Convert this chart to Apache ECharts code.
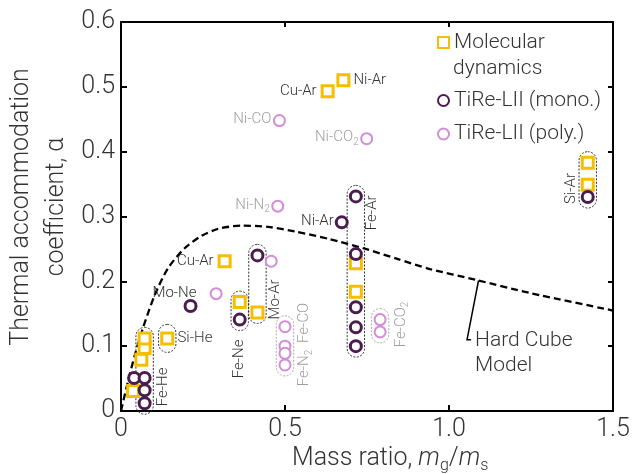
<!DOCTYPE html>
<html><head><meta charset="utf-8">
<script src="https://cdn.jsdelivr.net/npm/echarts@6/dist/echarts.min.js"></script>
<style>html,body{margin:0;padding:0;background:#fff}#c{width:633px;height:474px}</style>
</head><body><div id="c"></div>
<script>
// ---------- data ----------
const xTickValues = [0, 0.5, 1.0, 1.5];
const xTickLabels = ['0', '0.5', '1.0', '1.5'];
const yTickValues = [0, 0.1, 0.2, 0.3, 0.4, 0.5, 0.6];
const yTickLabels = ['0', '0.1', '0.2', '0.3', '0.4', '0.5', '0.6'];

const seriesNames = ['Molecular dynamics', 'TiRe-LII (mono.)', 'TiRe-LII (poly.)'];

const mdPoints = [
  [0.037, 0.031], [0.062, 0.079], [0.072, 0.097], [0.072, 0.112],
  [0.141, 0.112], [0.316, 0.231], [0.362, 0.168], [0.416, 0.152],
  [0.630, 0.493], [0.678, 0.510], [0.716, 0.228], [0.716, 0.184],
  [1.423, 0.383], [1.423, 0.349]
];
const monoPoints = [
  [0.040, 0.051], [0.072, 0.051], [0.072, 0.032], [0.072, 0.012],
  [0.212, 0.162], [0.362, 0.141], [0.416, 0.240], [0.673, 0.291],
  [0.716, 0.331], [0.716, 0.242], [0.716, 0.160], [0.716, 0.129],
  [0.716, 0.100], [1.423, 0.330]
];
const polyPoints = [
  [0.290, 0.181], [0.458, 0.231], [0.500, 0.130], [0.500, 0.100],
  [0.500, 0.089], [0.500, 0.071], [0.790, 0.141], [0.790, 0.122],
  [0.483, 0.448], [0.749, 0.420], [0.478, 0.316]
];

const hardCubeX = [0, 0.021, 0.042, 0.067, 0.103, 0.143, 0.194, 0.245, 0.296, 0.367, 0.448, 0.530, 0.637, 0.739, 0.840, 0.942, 1.084, 1.247, 1.5];
const hardCubeY = [0, 0.045, 0.086, 0.128, 0.179, 0.220, 0.251, 0.270, 0.281, 0.286, 0.284, 0.277, 0.265, 0.251, 0.235, 0.219, 0.202, 0.182, 0.155];

// point labels: [series index, point index, text]
const pointLabelRefs = [
  [0, 5, 'Cu-Ar'], [0, 8, 'Cu-Ar'], [0, 9, 'Ni-Ar'], [1, 4, 'Mo-Ne'],
  [1, 7, 'Ni-Ar'], [2, 8, 'Ni-CO'], [2, 9, 'Ni-CO_2'], [2, 10, 'Ni-N_2']
];
// grouped columns: centre x and label(s)
const groupX = [0.072, 0.141, 0.362, 0.416, 0.500, 0.716, 0.790, 1.423];
const groupNames = ['Fe-He', 'Si-He', 'Fe-Ne', 'Mo-Ar', 'Fe-N_2|Fe-CO', 'Fe-Ar', 'Fe-CO_2', 'Si-Ar'];

// ---------- styles / layout ----------
const FONT = 'Roboto';
const C_MD = '#F6BE00', C_MONO = '#4A1D4E', C_POLY = '#D48CD8';
const C_TXT = '#333333', C_GRAY = '#9e9e9e';

const option = {
  animation: false,
  backgroundColor: '#fff',
  grid: { left: 121, right: 20, top: 22, bottom: 63, containLabel: false, outerBoundsMode: 'none' },
  xAxis: [
    { type: 'value', min: xTickValues[0], max: xTickValues[xTickValues.length - 1], interval: 0.5, position: 'bottom',
      axisLine: { onZero: false, lineStyle: { color: '#000', width: 2 } },
      axisTick: { inside: true, length: 6, lineStyle: { color: '#000', width: 2 } },
      axisLabel: { margin: 6, fontSize: 25, fontFamily: FONT, fontWeight: 300, color: C_TXT, showMinLabel: true, showMaxLabel: true,
        formatter: v => { const i = xTickValues.findIndex(t => Math.abs(t - v) < 1e-9); return i >= 0 ? xTickLabels[i] : ''; } },
      splitLine: { show: false } },
    { type: 'value', min: 0, max: 1.5, interval: 0.5, position: 'top',
      axisLine: { onZero: false, lineStyle: { color: '#000', width: 2 } },
      axisTick: { inside: true, length: 5, lineStyle: { color: '#000', width: 2 } },
      axisLabel: { show: false }, splitLine: { show: false } }
  ],
  yAxis: [
    { type: 'value', min: yTickValues[0], max: yTickValues[yTickValues.length - 1], interval: 0.1, position: 'left',
      axisLine: { onZero: false, lineStyle: { color: '#000', width: 2 } },
      axisTick: { inside: true, length: 6, lineStyle: { color: '#000', width: 2 } },
      axisLabel: { margin: 6, fontSize: 25, fontFamily: FONT, fontWeight: 300, color: C_TXT, showMinLabel: true, showMaxLabel: true,
        formatter: v => { const i = yTickValues.findIndex(t => Math.abs(t - v) < 1e-9); return i >= 0 ? yTickLabels[i] : ''; } },
      splitLine: { show: false } },
    { type: 'value', min: 0, max: 0.6, interval: 0.1, position: 'right',
      axisLine: { onZero: false, lineStyle: { color: '#000', width: 2 } },
      axisTick: { inside: true, length: 5, lineStyle: { color: '#000', width: 2 } },
      axisLabel: { show: false }, splitLine: { show: false } }
  ],
  legend: [0, 1, 2].map((k) => ({
    data: [seriesNames[k]], orient: 'vertical', left: 437, top: [32, 90, 123.5][k], padding: 0,
    itemWidth: 11, itemHeight: 11, selectedMode: false,
    formatter: n => (k === 0 ? 'Molecular' : n),
    textStyle: { fontSize: 21, fontFamily: FONT, fontWeight: 300, color: C_TXT }
  })),
  series: [
    { type: 'line', name: 'Hard Cube Model', data: hardCubeX.map((x, i) => [x, hardCubeY[i]]),
      symbol: 'none', showSymbol: false, smooth: 0.25, silent: true, z: 1,
      lineStyle: { color: '#000', width: 2.3, type: [7, 4] } },
    { type: 'scatter', name: seriesNames[0], data: mdPoints, symbol: 'rect', symbolSize: 11, z: 3,
      itemStyle: { color: '#fff', borderColor: C_MD, borderWidth: 3, opacity: 1 } },
    { type: 'scatter', name: seriesNames[1], data: monoPoints, symbol: 'circle', symbolSize: 11, z: 4,
      itemStyle: { color: '#fff', borderColor: C_MONO, borderWidth: 3, opacity: 1 } },
    { type: 'scatter', name: seriesNames[2], data: polyPoints, symbol: 'circle', symbolSize: 11, z: 5,
      itemStyle: { color: '#fff', borderColor: C_POLY, borderWidth: 2, opacity: 1 } }
  ]
};

const chart = echarts.init(document.getElementById('c'), null, { renderer: 'canvas' });
chart.setOption(option);

// ---------- annotations computed from data ----------
function richOf(t) {
  const parts = t.split('_');
  let s = '{a|' + parts[0] + '}';
  if (parts[1]) s += '{s|' + parts[1] + '}';
  return s;
}
function richStyles(size, color) {
  return {
    a: { fontSize: size, fontFamily: FONT, fontWeight: 300, color: color, lineHeight: size + 4 },
    s: { fontSize: Math.round(size * 0.66), fontFamily: FONT, fontWeight: 300, color: color, lineHeight: Math.round(size * 0.66), verticalAlign: 'bottom' },
    i: { fontSize: size, fontFamily: FONT, fontWeight: 300, fontStyle: 'italic', color: color, lineHeight: size + 4 }
  };
}
function textEl(x, y, text, size, color, align, rot) {
  return {
    type: 'text', x: x, y: y, rotation: rot ? Math.PI / 2 : 0, silent: true, z: 20,
    style: { text: text, rich: richStyles(size, color), fill: color, fontSize: size, fontFamily: FONT, fontWeight: 300,
      align: align, textAlign: align, verticalAlign: 'middle', textVerticalAlign: 'middle' }
  };
}

function build() {
  const P = p => chart.convertToPixel({ xAxisIndex: 0, yAxisIndex: 0 }, p);
  const sets = [mdPoints, monoPoints, polyPoints];
  const els = [];
  const grayNames = ['Ni-CO', 'Ni-CO_2', 'Ni-N_2', 'Fe-N_2', 'Fe-CO', 'Fe-CO_2'];

  pointLabelRefs.forEach(([s, i, t]) => {
    const p = P(sets[s][i]);
    const col = grayNames.includes(t) ? C_GRAY : C_TXT;
    let x, y = p[1], al = 'right';
    if (t === 'Mo-Ne') { x = p[0] + 6; y = p[1] - 13; }
    else if (s === 0 && t === 'Ni-Ar') { x = p[0] + 10; al = 'left'; }
    else if (s === 0) { x = p[0] - 11; }
    else { x = p[0] - 8; y = p[1] - 1; }
    els.push(textEl(x, y, richOf(t), 15, col, al, false));
  });

  const all = [].concat(mdPoints, monoPoints, polyPoints);
  const halfW = 8.7;
  groupX.forEach((gx, k) => {
    const mem = all.filter(p => Math.abs(p[0] - gx) < 0.012);
    const ys = mem.map(p => p[1]);
    const pad = mem.length === 1 ? 14 : 11;
    const cx = P([gx, 0])[0];
    const top = P([gx, Math.max.apply(null, ys)])[1] - pad;
    const bot = P([gx, Math.min.apply(null, ys)])[1] + pad;
    const names = groupNames[k].split('|');
    const gray = names.some(n => grayNames.includes(n));
    els.push({
      type: 'rect', silent: true, z: 1,
      shape: { x: cx - halfW, y: top, width: 2 * halfW, height: bot - top, r: halfW },
      style: { fill: 'none', stroke: gray ? '#aaaaaa' : '#333333', lineWidth: 1, lineDash: [2, 1.5] }
    });
    const rx0 = cx - halfW, rx1 = cx + halfW;
    const col = gray ? C_GRAY : C_TXT;
    const n0 = names[0];
    if (n0 === 'Fe-He') els.push(textEl(rx1 + 10, bot - 8, n0, 15, col, 'left', true));
    else if (n0 === 'Si-He') els.push(textEl(rx1 + 1.5, (top + bot) / 2, n0, 15, col, 'left', false));
    else if (n0 === 'Fe-Ne') els.push(textEl(cx, bot + 9, n0, 15, col, 'right', true));
    else if (n0 === 'Mo-Ar') els.push(textEl(rx1 + 9.5, top + 35, n0, 15, col, 'right', true));
    else if (n0 === 'Fe-Ar') els.push(textEl(rx1 + 7.5, top + 10, n0, 15, col, 'right', true));
    else if (n0 === 'Fe-CO_2') els.push(textEl(rx1 + 12, top - 7, richOf(n0), 15, col, 'right', true));
    else if (n0 === 'Si-Ar') els.push(textEl(rx0 - 8, bot - 4, n0, 15, col, 'left', true));
    else if (n0 === 'Fe-N_2') {
      els.push(textEl(rx1 + 11, top - 13, names[1], 15, col, 'right', true));
      els.push(textEl(rx1 + 11, top + 34, richOf(n0), 15, col, 'right', true));
    }
  });

  const hx = 1.09;
  let hy = hardCubeY[0];
  for (let i = 1; i < hardCubeX.length; i++) {
    if (hardCubeX[i] >= hx) { const t = (hx - hardCubeX[i - 1]) / (hardCubeX[i] - hardCubeX[i - 1]); hy = hardCubeY[i - 1] + t * (hardCubeY[i] - hardCubeY[i - 1]); break; }
  }
  const a = P([hx, hy]), b = P([1.055, 0.110]);
  els.push({ type: 'polyline', silent: true, z: 6, shape: { points: [a, b, [b[0] + 4, b[1]]] }, style: { stroke: '#000', lineWidth: 1.5, fill: 'none' } });
  els.push({ type: 'text', x: b[0] + 8, y: b[1] + 1.5, silent: true, z: 20,
    style: { text: 'Hard Cube\nModel', fontSize: 21, fontFamily: FONT, fontWeight: 300, fill: C_TXT, lineHeight: 24.5,
      align: 'left', textAlign: 'left', verticalAlign: 'top', textVerticalAlign: 'top', y: -12.25 } });

  els.push({ type: 'text', x: 453, y: 68.5, silent: true, z: 20,
    style: { text: 'dynamics', fontSize: 21, fontFamily: FONT, fontWeight: 300, fill: C_TXT, align: 'left', textAlign: 'left', verticalAlign: 'middle', textVerticalAlign: 'middle' } });

  els.push({ type: 'text', x: 39, y: 207, rotation: Math.PI / 2, silent: true, z: 20,
    style: { text: 'Thermal accommodation\ncoefficient, \u03b1', fontSize: 25, fontFamily: FONT, fontWeight: 300, fill: C_TXT, lineHeight: 35,
      align: 'center', textAlign: 'center', verticalAlign: 'middle', textVerticalAlign: 'middle' } });
  const xr = richStyles(25, C_TXT);
  xr.s = { fontSize: 16, fontFamily: FONT, fontWeight: 300, color: C_TXT, lineHeight: 16, verticalAlign: 'bottom' };
  els.push({ type: 'text', x: 292, y: 459, silent: true, z: 20,
    style: { text: '{a|Mass ratio, }{i|m}{s|g}{a|/}{i|m}{s|s}', rich: xr, fill: C_TXT,
      align: 'left', textAlign: 'left', verticalAlign: 'middle', textVerticalAlign: 'middle' } });

  chart.setOption({ graphic: els });
}
build();
</script>
</body></html>
